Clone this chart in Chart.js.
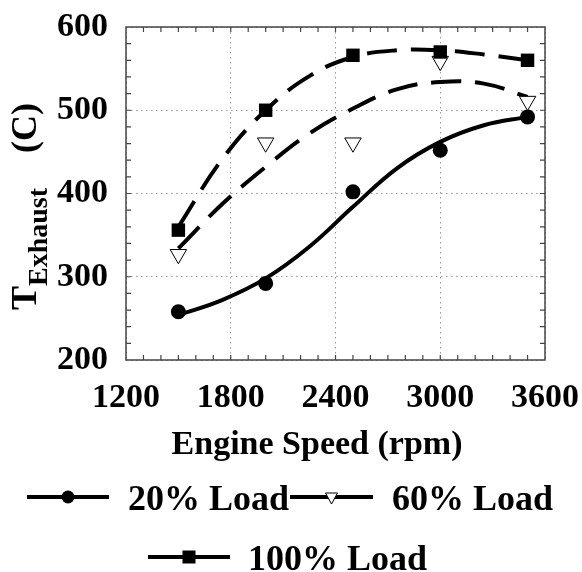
<!DOCTYPE html>
<html>
<head>
<meta charset="utf-8">
<script src="https://cdn.jsdelivr.net/npm/chart.js@4"></script>
<style>
  body { margin: 0; background: #fff; }
  canvas { display: block; }
</style>
</head>
<body>
<canvas id="myChart" width="582" height="572"></canvas>
<script>
// measured points
const speeds = [1500, 2000, 2500, 3000, 3500];
const load20 = [258, 292, 402, 452, 492];
const load60 = [327, 461, 461, 559, 511];
const load100 = [356, 500, 566, 570, 560];

// fitted trend lines
const fitSpeeds = [1500, 1750, 2000, 2250, 2500, 2750, 3000, 3250, 3500];
const fit20 = [254, 272, 298, 336, 384, 430, 462, 482, 492];
const fit60 = [334, 387, 432, 472, 502, 525, 534, 532, 516];
const fit100 = [360, 441, 500, 541, 564, 572, 572, 567, 560];

const xTicks = [1200, 1800, 2400, 3000, 3600];
const yTicks = [200, 300, 400, 500, 600];
const seriesNames = ['20% Load', '60% Load', '100% Load'];

const FAMILY = '"Liberation Serif", "Times New Roman", serif';
const pts = (xs, ys) => xs.map((x, i) => ({ x: x, y: ys[i] }));

// frame, inward ticks, axis titles and legend
const decorations = {
  id: 'decorations',
  afterDraw(chart) {
    const { ctx, chartArea: a, scales: { x, y } } = chart;
    ctx.save();
    ctx.strokeStyle = '#444';
    ctx.lineWidth = 1.5;
    ctx.strokeRect(a.left, a.top, a.right - a.left, a.bottom - a.top);
    ctx.lineWidth = 1.2;
    ctx.beginPath();
    for (let v = 1300; v < 3600; v += 100) {
      const px = x.getPixelForValue(v);
      ctx.moveTo(px, a.bottom); ctx.lineTo(px, a.bottom - 5);
      ctx.moveTo(px, a.top); ctx.lineTo(px, a.top + 5);
    }
    for (let v = 220; v < 600; v += 20) {
      const py = y.getPixelForValue(v);
      ctx.moveTo(a.left, py); ctx.lineTo(a.left + 5, py);
      ctx.moveTo(a.right, py); ctx.lineTo(a.right - 5, py);
    }
    ctx.stroke();

    ctx.fillStyle = '#000';
    ctx.textBaseline = 'alphabetic';
    // x title
    ctx.font = 'bold 34px ' + FAMILY;
    ctx.textAlign = 'center';
    ctx.fillText('Engine Speed (rpm)', 317, 454);

    // y title with subscript
    ctx.save();
    ctx.translate(36, 310);
    ctx.rotate(-Math.PI / 2);
    ctx.textAlign = 'left';
    ctx.font = 'bold 36px ' + FAMILY;
    ctx.fillText('T', 0, 0);
    const wT = ctx.measureText('T').width;
    ctx.font = 'bold 28px ' + FAMILY;
    ctx.fillText('Exhaust', wT, 11);
    ctx.font = 'bold 36px ' + FAMILY;
    ctx.textAlign = 'right';
    ctx.fillText('(C)', 207, 0);
    ctx.restore();

    // legend
    const items = [
      { x0: 27, x1: 109, y: 497, tx: 128, mark: 'circle' },
      { x0: 290, x1: 373, y: 497, tx: 392, mark: 'tri' },
      { x0: 148, x1: 230, y: 557, tx: 248, mark: 'square' }
    ];
    items.forEach((it, i) => {
      ctx.strokeStyle = '#000';
      ctx.lineWidth = 4;
      ctx.beginPath();
      ctx.moveTo(it.x0, it.y); ctx.lineTo(it.x1, it.y);
      ctx.stroke();
      const cx = (it.x0 + it.x1) / 2;
      ctx.fillStyle = '#000';
      if (it.mark === 'circle') {
        ctx.beginPath(); ctx.arc(cx, it.y, 6.5, 0, Math.PI * 2); ctx.fill();
      } else if (it.mark === 'square') {
        ctx.fillRect(cx - 6.5, it.y - 6.5, 13, 13);
      } else {
        ctx.fillStyle = '#fff';
        ctx.lineWidth = 1;
        ctx.beginPath();
        ctx.moveTo(cx - 6, it.y - 4); ctx.lineTo(cx + 6, it.y - 4); ctx.lineTo(cx, it.y + 7);
        ctx.closePath(); ctx.fill(); ctx.stroke();
      }
      ctx.fillStyle = '#000';
      ctx.font = 'bold 36px ' + FAMILY;
      ctx.textAlign = 'left';
      ctx.fillText(seriesNames[i], it.tx, it.y + 13);
    });
    ctx.restore();
  }
};

const ctx = document.getElementById('myChart');
new Chart(ctx, {
  type: 'scatter',
  data: {
    datasets: [
      { label: seriesNames[2], data: pts(speeds, load100), showLine: false,
        pointStyle: 'rect', pointRadius: 9.5, backgroundColor: '#000', borderColor: '#000', borderWidth: 0 },
      { label: seriesNames[1], data: pts(speeds, load60), showLine: false,
        pointStyle: 'triangle', rotation: 180, pointRadius: 9.5, backgroundColor: '#fff', borderColor: '#000', borderWidth: 1 },
      { label: seriesNames[0], data: pts(speeds, load20), showLine: false,
        pointStyle: 'circle', pointRadius: 7.5, backgroundColor: '#000', borderColor: '#000', borderWidth: 0 },
      { label: 'fit 20', data: pts(fitSpeeds, fit20), showLine: true, pointRadius: 0,
        borderColor: '#000', borderWidth: 4, tension: 0.4, fill: false },
      { label: 'fit 60', data: pts(fitSpeeds, fit60), showLine: true, pointRadius: 0,
        borderColor: '#000', borderWidth: 4, borderDash: [30, 14], tension: 0.4, fill: false },
      { label: 'fit 100', data: pts(fitSpeeds, fit100), showLine: true, pointRadius: 0,
        borderColor: '#000', borderWidth: 4, borderDash: [30, 14], tension: 0.4, fill: false }
    ]
  },
  options: {
    responsive: false,
    animation: false,
    layout: { padding: { left: 56, right: 37, top: 27, bottom: 152 } },
    plugins: { legend: { display: false }, tooltip: { enabled: false } },
    scales: {
      x: {
        type: 'linear', min: 1200, max: 3600,
        afterBuildTicks: s => { s.ticks = xTicks.map(v => ({ value: v })); },
        afterFit: s => { s.height = 60; s.paddingLeft = 0; s.paddingRight = 0; },
        grid: { color: '#999', lineWidth: 1, drawTicks: false },
        border: { display: false, dash: [1.5, 3.5] },
        ticks: { color: '#000', padding: 18, maxRotation: 0, autoSkip: false,
          font: { family: FAMILY, size: 34, weight: 'bold' }, callback: v => String(v) }
      },
      y: {
        min: 200, max: 600,
        afterBuildTicks: s => { s.ticks = yTicks.map(v => ({ value: v })); },
        afterFit: s => { s.width = 70; s.paddingTop = 0; s.paddingBottom = 0; },
        grid: { color: '#999', lineWidth: 1, drawTicks: false },
        border: { display: false, dash: [1.5, 3.5] },
        ticks: { color: '#000', padding: 18, autoSkip: false,
          font: { family: FAMILY, size: 34, weight: 'bold' }, callback: v => String(v) }
      }
    }
  },
  plugins: [decorations]
});
</script>
</body>
</html>
